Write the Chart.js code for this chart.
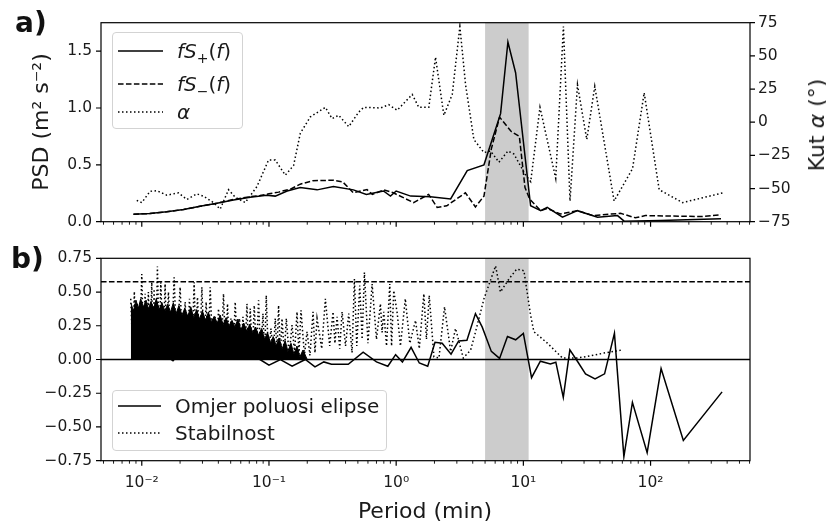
<!DOCTYPE html>
<html>
<head>
<meta charset="utf-8">
<script src="https://cdn.jsdelivr.net/npm/chart.js@4.4.1/dist/chart.umd.min.js"></script>
<style>
  body { margin: 0; background: #fff; width: 826px; height: 524px; position: relative; overflow: hidden; font-family: "DejaVu Sans", sans-serif; color: #1a1a1a; }
  canvas { position: absolute; left: 0; }
  #topChart { top: 0; }
  #bottomChart { top: 240px; }
  .panel { position: absolute; font-weight: bold; font-size: 28px; line-height: 28px; color: #111; }
  .title { position: absolute; font-size: 22px; line-height: 22px; white-space: nowrap; transform: translate(-50%, -50%); }
  .rot { transform: translate(-50%, -50%) rotate(-90deg); }
  .legend { position: absolute; box-sizing: border-box; border: 1px solid #d3d3d3; border-radius: 4px; background: rgba(255,255,255,0.85); }
  .legend svg { position: absolute; }
  .legend span { position: absolute; font-size: 20px; line-height: 24px; white-space: nowrap; }
</style>
</head>
<body>
<canvas id="topChart" width="826" height="240"></canvas>
<canvas id="bottomChart" width="826" height="284"></canvas>

<div class="panel" style="left:15px; top:9px;">a)</div>
<div class="panel" style="left:11px; top:245px;">b)</div>
<div class="title rot" style="left:41px; top:122px;">PSD (m² s⁻²)</div>
<div class="title rot" style="left:817px; top:125px;">Kut <i>α</i> (°)</div>
<div class="title" style="left:425px; top:511px;">Period (min)</div>

<!-- legend a) -->
<div class="legend" style="left:112px; top:32px; width:131px; height:97px;">
  <svg style="left:5px; top:13px;" width="46" height="10"><line x1="0" y1="5" x2="45" y2="5" stroke="#000" stroke-width="1.5"/></svg>
  <span style="left:64px; top:6px;"><i>fS</i><sub style="font-size:14px">+</sub>(<i>f</i>)</span>
  <svg style="left:5px; top:46px;" width="46" height="10"><line x1="0" y1="5" x2="45" y2="5" stroke="#000" stroke-width="1.5" stroke-dasharray="5.55 2.4"/></svg>
  <span style="left:64px; top:39px;"><i>fS</i><sub style="font-size:14px">−</sub>(<i>f</i>)</span>
  <svg style="left:5px; top:74px;" width="46" height="10"><line x1="0" y1="5" x2="45" y2="5" stroke="#000" stroke-width="1.5" stroke-dasharray="1.5 2.5"/></svg>
  <span style="left:64px; top:67px;"><i>α</i></span>
</div>

<!-- legend b) -->
<div class="legend" style="left:112px; top:390px; width:275px; height:61px;">
  <svg style="left:5px; top:10px;" width="46" height="10"><line x1="0" y1="5" x2="43" y2="5" stroke="#000" stroke-width="1.5"/></svg>
  <span style="left:62px; top:3px;">Omjer poluosi elipse</span>
  <svg style="left:5px; top:37px;" width="46" height="10"><line x1="0" y1="5" x2="43" y2="5" stroke="#000" stroke-width="1.5" stroke-dasharray="1.5 2.5"/></svg>
  <span style="left:62px; top:30px;">Stabilnost</span>
</div>

<script>
// x axis (period in minutes, log scale)
const xMin = 0.00478;
const xMax = 605;
const xTickValues = [0.01, 0.1, 1, 10, 100];
const xTickLabels = ['10⁻²', '10⁻¹', '10⁰', '10¹', '10²'];
const bandPeriods = [5, 11];

// panel a) spectra
const plusPeriods = [0.0086, 0.0116, 0.0157, 0.0213, 0.0287, 0.039, 0.0526, 0.071, 0.096, 0.112,
  0.139, 0.176, 0.239, 0.321, 0.461, 0.583, 0.794, 0.902, 1.0, 1.3,
  1.86, 2.68, 3.62, 4.9, 6.62, 7.56, 8.69, 11.4, 13.7, 15.4,
  20.3, 26.6, 38.3, 55, 62, 120, 358];
const plusPsd = [0.066, 0.072, 0.087, 0.108, 0.135, 0.162, 0.19, 0.215, 0.232, 0.225,
  0.27, 0.3, 0.28, 0.31, 0.28, 0.24, 0.27, 0.225, 0.27, 0.225,
  0.22, 0.2, 0.45, 0.5, 0.95, 1.58, 1.31, 0.14, 0.097, 0.126,
  0.04, 0.097, 0.04, 0.054, 0.005, 0.01, 0.026];

const minusPeriods = [0.0086, 0.0116, 0.0157, 0.0213, 0.0287, 0.039, 0.0526, 0.071, 0.085, 0.1,
  0.119, 0.15, 0.176, 0.22, 0.32, 0.38, 0.46, 0.59, 0.65, 0.8,
  0.95, 1.37, 1.8, 2.1, 2.5, 3.5, 4.2, 4.9, 5.6, 6.5,
  8.0, 9.3, 10.3, 11.2, 13.7, 15.4, 19.5, 26.6, 35.4, 58,
  76, 91, 250, 358];
const minusPsd = [0.066, 0.072, 0.087, 0.108, 0.135, 0.162, 0.195, 0.22, 0.23, 0.245,
  0.26, 0.29, 0.33, 0.36, 0.365, 0.35, 0.254, 0.282, 0.24, 0.28,
  0.254, 0.168, 0.24, 0.126, 0.14, 0.254, 0.13, 0.225, 0.64, 0.92,
  0.795, 0.75, 0.3, 0.2, 0.097, 0.117, 0.068, 0.097, 0.054, 0.074,
  0.034, 0.054, 0.045, 0.062];

const alphaPeriods = [0.00913, 0.01, 0.01162, 0.01313, 0.01573, 0.01942, 0.02262, 0.02711, 0.03055, 0.03663,
  0.04136, 0.04807, 0.05427, 0.06507, 0.08046, 0.0993, 0.1121, 0.1344, 0.1562, 0.1764,
  0.2114, 0.2776, 0.3134, 0.3532, 0.4236, 0.5076, 0.5557, 0.7521, 0.8746, 1.018,
  1.337, 1.507, 1.806, 2.039, 2.371, 2.76, 3.168, 3.513, 4.083, 4.896,
  5.527, 6.427, 7.564, 8.433, 10.43, 11.42, 13.51, 17.96, 20.65, 23.27,
  26.63, 31.51, 36.42, 51.69, 72.17, 89.07, 116.9, 178.6, 368.9];
const alphaDeg = [-58.9, -60.6, -52.1, -51.6, -55, -53.3, -58.2, -54, -55.8, -60.6,
  -65.5, -50.9, -56.5, -60.6, -48.5, -28.5, -28.5, -39.9, -32.6, -8.3,
  4, 11.2, 2.7, 5.2, -3.4, 7.6, 11.2, 10.7, 13.2, 9,
  20.9, 11.2, 11.2, 49, 5.2, 20.9, 72.1, 28.2, -13.1, -22.9,
  -21.7, -30.2, -21.7, -24, -39.9, -44.8, 11.2, -42.3, 72.1, -59.4,
  28.2, -13.1, 27, -59.4, -35, 22.2, -50.9, -60.6, -53.3];

// panel b) ellipse ratio and stability
const ratioPeriods = [0.0085, 0.012, 0.0176, 0.025, 0.04, 0.06, 0.085, 0.1, 0.123, 0.152,
  0.193, 0.23, 0.27, 0.31, 0.42, 0.55, 0.7, 0.86, 0.99, 1.12,
  1.31, 1.52, 1.77, 2.02, 2.3, 2.7, 3.1, 3.6, 4.2, 4.75,
  5.6, 6.5, 7.5, 8.7, 10.0, 11.6, 13.6, 16.3, 18.0, 20.6,
  23.2, 26.6, 30.8, 36.6, 43.5, 52, 61.7, 72, 94, 121,
  181, 365];
const ratioValues = [0.3, 0.1, -0.01, 0.15, 0.1, 0.05, 0.0, -0.042, 0.0, -0.05,
  0.0, -0.055, -0.018, -0.035, -0.035, 0.055, -0.018, -0.05, 0.036, -0.018,
  0.09, -0.026, -0.05, 0.128, 0.12, 0.04, 0.138, 0.143, 0.34, 0.24,
  0.06, 0.008, 0.17, 0.146, 0.194, -0.135, -0.013, -0.033, -0.02, -0.28,
  0.072, -0.013, -0.106, -0.143, -0.106, 0.194, -0.72, -0.318, -0.69, -0.067,
  -0.6, -0.24];

// ragged upper edge of the dense, fully black short-period band
const densePeriods = [0.0082, 0.0086, 0.009, 0.0094, 0.0098, 0.0103, 0.0108, 0.0113, 0.0118, 0.0124,
  0.013, 0.0137, 0.0144, 0.0152, 0.016, 0.0168, 0.0177, 0.0186, 0.0196, 0.0207,
  0.0218, 0.023, 0.0243, 0.0256, 0.027, 0.0285, 0.03, 0.0317, 0.0334, 0.0352,
  0.0371, 0.0392, 0.0413, 0.0436, 0.046, 0.0485, 0.0512, 0.054, 0.057, 0.0601,
  0.0634, 0.0669, 0.0706, 0.0745, 0.0786, 0.0829, 0.0875, 0.0923, 0.0974, 0.103,
  0.108, 0.114, 0.12, 0.127, 0.134, 0.141, 0.149, 0.157, 0.166, 0.175,
  0.185, 0.2];
const denseTop = [0.42, 0.36, 0.44, 0.38, 0.45, 0.39, 0.44, 0.37, 0.43, 0.38,
  0.45, 0.37, 0.42, 0.36, 0.41, 0.35, 0.42, 0.34, 0.4, 0.33,
  0.38, 0.32, 0.39, 0.31, 0.37, 0.3, 0.36, 0.29, 0.35, 0.28,
  0.32, 0.27, 0.33, 0.26, 0.31, 0.25, 0.29, 0.24, 0.3, 0.22,
  0.27, 0.21, 0.26, 0.2, 0.24, 0.18, 0.23, 0.15, 0.2, 0.12,
  0.17, 0.1, 0.16, 0.08, 0.14, 0.06, 0.12, 0.04, 0.1, 0.02,
  0.07, 0.0];

const stabPeriods = [0.00819, 0.0085, 0.00874, 0.009, 0.0092, 0.0096, 0.01, 0.0103, 0.01062, 0.0109,
  0.01127, 0.0116, 0.01198, 0.0122, 0.0125, 0.0129, 0.01327, 0.0137, 0.01411, 0.0147,
  0.01526, 0.0157, 0.0162, 0.0171, 0.01796, 0.0188, 0.02003, 0.0209, 0.02193, 0.0228,
  0.02371, 0.0248, 0.02581, 0.0266, 0.02741, 0.0286, 0.02968, 0.0309, 0.03208, 0.0333,
  0.0345, 0.0362, 0.03777, 0.0389, 0.0401, 0.0421, 0.0439, 0.0456, 0.04721, 0.0488,
  0.05022, 0.0523, 0.05427, 0.0565, 0.05868, 0.0605, 0.06242, 0.0648, 0.06713, 0.069,
  0.07126, 0.074, 0.0766, 0.0797, 0.08283, 0.086, 0.0897, 0.0925, 0.09522, 0.099,
  0.1037, 0.108, 0.1121, 0.1155, 0.119, 0.123, 0.1266, 0.132, 0.1369, 0.144,
  0.1518, 0.159, 0.1662, 0.172, 0.1786, 0.19, 0.1992, 0.21, 0.2221, 0.23,
  0.2388, 0.26, 0.2776, 0.30, 0.3191, 0.33, 0.343, 0.36, 0.3757, 0.40,
  0.4236, 0.45, 0.4696, 0.49, 0.5169, 0.54, 0.5628, 0.6, 0.6471, 0.70,
  0.7521, 0.775, 0.7989, 0.84, 0.8907, 0.92, 0.9574, 1.02, 1.08, 1.18,
  1.28, 1.42, 1.52, 1.65, 1.73, 1.82, 1.98, 2.17, 2.4, 2.68,
  2.93, 3.37, 3.85, 4.21, 4.9, 6.05, 6.6, 7.7, 8.86, 10.1,
  11.4, 12.1, 15.45, 20.3, 26.6, 31.9, 43.1, 51.7, 60.2];
const stabValues = [0.45, 0.05, 0.504, 0.08, 0.42, 0.06, 0.633, 0.1, 0.487, 0.08,
  0.5, 0.1, 0.572, 0.1, 0.523, 0.08, 0.69, 0.1, 0.572, 0.08,
  0.56, 0.1, 0.5, 0.06, 0.609, 0.08, 0.536, 0.06, 0.426, 0.08,
  0.45, 0.05, 0.572, 0.08, 0.462, 0.06, 0.536, 0.05, 0.426, 0.07,
  0.536, 0.04, 0.316, 0.06, 0.377, 0.05, 0.487, 0.06, 0.413, 0.04,
  0.304, 0.05, 0.426, 0.04, 0.304, 0.05, 0.316, 0.04, 0.413, 0.05,
  0.377, 0.03, 0.401, 0.04, 0.438, 0.03, 0.34, 0.03, 0.475, 0.02,
  0.23, 0.03, 0.304, 0.05, 0.401, 0.03, 0.304, 0.04, 0.304, 0.03,
  0.255, 0.05, 0.353, 0.04, 0.365, 0.03, 0.206, 0.03, 0.353, 0.05,
  0.304, 0.08, 0.45, 0.1, 0.353, 0.12, 0.316, 0.08, 0.353, 0.1,
  0.34, 0.05, 0.596, 0.1, 0.548, 0.15, 0.645, 0.12, 0.56, 0.15,
  0.413, 0.2, 0.353, 0.1, 0.56, 0.1, 0.511, 0.34, 0.1, 0.45,
  0.12, 0.29, 0.08, 0.487, 0.15, 0.475, 0.02, 0.011, 0.39, 0.06,
  0.23, 0.011, 0.07, 0.206, 0.45, 0.694, 0.5, 0.596, 0.67, 0.658,
  0.328, 0.206, 0.121, 0.011, 0.011, 0.023, 0.048, 0.06, 0.072];

const refLines = [0, 0.577];

const tickFont = { family: "'DejaVu Sans', sans-serif", size: 15.5 };
const textColor = '#1a1a1a';
const DOTTED = [1.5, 2.5];
const DASHED = [5.55, 2.4];

function points(xs, ys) {
  return xs.map((x, i) => ({ x: x, y: ys[i] }));
}

function minusSign(s) {
  return s.replace('-', '−');
}

function xAxis(showLabels, height) {
  return {
    type: 'logarithmic',
    min: xMin,
    max: xMax,
    grid: { display: false, drawTicks: false },
    border: { display: false },
    ticks: {
      display: showLabels,
      autoSkip: false,
      maxRotation: 0,
      padding: 13,
      color: textColor,
      font: tickFont,
      callback: function(value) {
        const i = xTickValues.findIndex(t => Math.abs(Math.log10(value) - Math.log10(t)) < 1e-6);
        return i >= 0 ? xTickLabels[i] : '';
      }
    },
    afterFit: function(scale) { scale.height = height; }
  };
}

// shaded band 5–11 min
const bandPlugin = {
  id: 'band',
  beforeDatasetsDraw(chart) {
    const { ctx, chartArea: a, scales } = chart;
    const x0 = scales.x.getPixelForValue(bandPeriods[0]);
    const x1 = scales.x.getPixelForValue(bandPeriods[1]);
    ctx.save();
    ctx.fillStyle = 'rgba(128,128,128,0.4)';
    ctx.fillRect(x0, a.top, x1 - x0, a.bottom - a.top);
    ctx.restore();
  }
};

// matplotlib-like frame with major/minor tick marks
const framePlugin = {
  id: 'frame',
  afterDraw(chart) {
    const { ctx, chartArea: a, scales } = chart;
    ctx.save();
    ctx.strokeStyle = '#000';
    ctx.lineWidth = 1.2;
    ctx.strokeRect(a.left, a.top, a.right - a.left, a.bottom - a.top);

    const xs = scales.x;
    ctx.beginPath();
    for (let e = -3; e <= 3; e++) {
      const px = xs.getPixelForValue(Math.pow(10, e));
      if (Math.pow(10, e) < xs.min || Math.pow(10, e) > xs.max) continue;
      ctx.moveTo(px, a.bottom); ctx.lineTo(px, a.bottom + 5);
    }
    scales.y.ticks.forEach(t => {
      const py = scales.y.getPixelForValue(t.value);
      ctx.moveTo(a.left - 5, py); ctx.lineTo(a.left, py);
    });
    if (scales.y1) {
      scales.y1.ticks.forEach(t => {
        const py = scales.y1.getPixelForValue(t.value);
        ctx.moveTo(a.right, py); ctx.lineTo(a.right + 5, py);
      });
    }
    ctx.stroke();

    ctx.lineWidth = 0.9;
    ctx.beginPath();
    for (let e = -3; e <= 3; e++) {
      for (let k = 2; k <= 9; k++) {
        const v = k * Math.pow(10, e);
        if (v < xs.min || v > xs.max) continue;
        const px = xs.getPixelForValue(v);
        ctx.moveTo(px, a.bottom); ctx.lineTo(px, a.bottom + 3);
      }
    }
    ctx.stroke();
    ctx.restore();
  }
};

// horizontal reference lines in panel b)
const refLinePlugin = {
  id: 'refLines',
  afterDatasetsDraw(chart) {
    const { ctx, chartArea: a, scales } = chart;
    ctx.save();
    ctx.strokeStyle = '#000';
    ctx.lineWidth = 1.5;
    refLines.forEach((v, i) => {
      const py = scales.y.getPixelForValue(v);
      ctx.setLineDash(i === 0 ? [] : DASHED);
      ctx.beginPath();
      ctx.moveTo(a.left, py); ctx.lineTo(a.right, py);
      ctx.stroke();
    });
    ctx.restore();
  }
};

const lineDefaults = { pointRadius: 0, borderWidth: 1.5, borderColor: '#000', tension: 0, fill: false };

// Panel a)
new Chart(document.getElementById('topChart'), {
  type: 'line',
  data: {
    datasets: [
      Object.assign({ label: 'fS+(f)', data: points(plusPeriods, plusPsd), yAxisID: 'y' }, lineDefaults),
      Object.assign({ label: 'fS-(f)', data: points(minusPeriods, minusPsd), yAxisID: 'y', borderDash: DASHED }, lineDefaults),
      Object.assign({ label: 'α', data: points(alphaPeriods, alphaDeg), yAxisID: 'y1', borderDash: DOTTED }, lineDefaults)
    ]
  },
  options: {
    responsive: false,
    animation: false,
    layout: { padding: { top: 22.7, left: 0, right: 0, bottom: 0 } },
    plugins: { legend: { display: false }, tooltip: { enabled: false } },
    scales: {
      x: xAxis(false, 12),
      y: {
        position: 'left',
        min: 0, max: 1.75,
        grid: { display: false, drawTicks: false },
        border: { display: false },
        ticks: { stepSize: 0.5, includeBounds: false, padding: 9, color: textColor, font: tickFont,
          callback: v => v.toFixed(1) },
        afterFit: s => { s.width = 101; }
      },
      y1: {
        position: 'right',
        min: -75, max: 75,
        grid: { display: false, drawTicks: false },
        border: { display: false },
        ticks: { stepSize: 25, padding: 8, color: textColor, font: tickFont,
          callback: v => minusSign(String(Math.round(v))) },
        afterFit: s => { s.width = 76; }
      }
    }
  },
  plugins: [bandPlugin, framePlugin]
});

// Panel b)
new Chart(document.getElementById('bottomChart'), {
  type: 'line',
  data: {
    datasets: [
      Object.assign({ label: 'Omjer poluosi elipse', data: points(ratioPeriods, ratioValues) }, lineDefaults),
      Object.assign({ label: 'Stabilnost', data: points(stabPeriods, stabValues), borderDash: DOTTED }, lineDefaults),
      Object.assign({}, lineDefaults, { label: 'dense', data: points(densePeriods, denseTop),
        fill: 'origin', backgroundColor: '#000', borderWidth: 1 })
    ]
  },
  options: {
    responsive: false,
    animation: false,
    layout: { padding: { top: 15.7, left: 0, right: 76, bottom: 0 } },
    plugins: { legend: { display: false }, tooltip: { enabled: false } },
    scales: {
      x: xAxis(true, 63.3),
      y: {
        min: -0.75, max: 0.75,
        grid: { display: false, drawTicks: false },
        border: { display: false },
        ticks: { stepSize: 0.25, padding: 9, color: textColor, font: tickFont,
          callback: v => minusSign((Math.abs(v) < 1e-9 ? 0 : v).toFixed(2)) },
        afterFit: s => { s.width = 101; }
      }
    }
  },
  plugins: [bandPlugin, refLinePlugin, framePlugin]
});
</script>
</body>
</html>
